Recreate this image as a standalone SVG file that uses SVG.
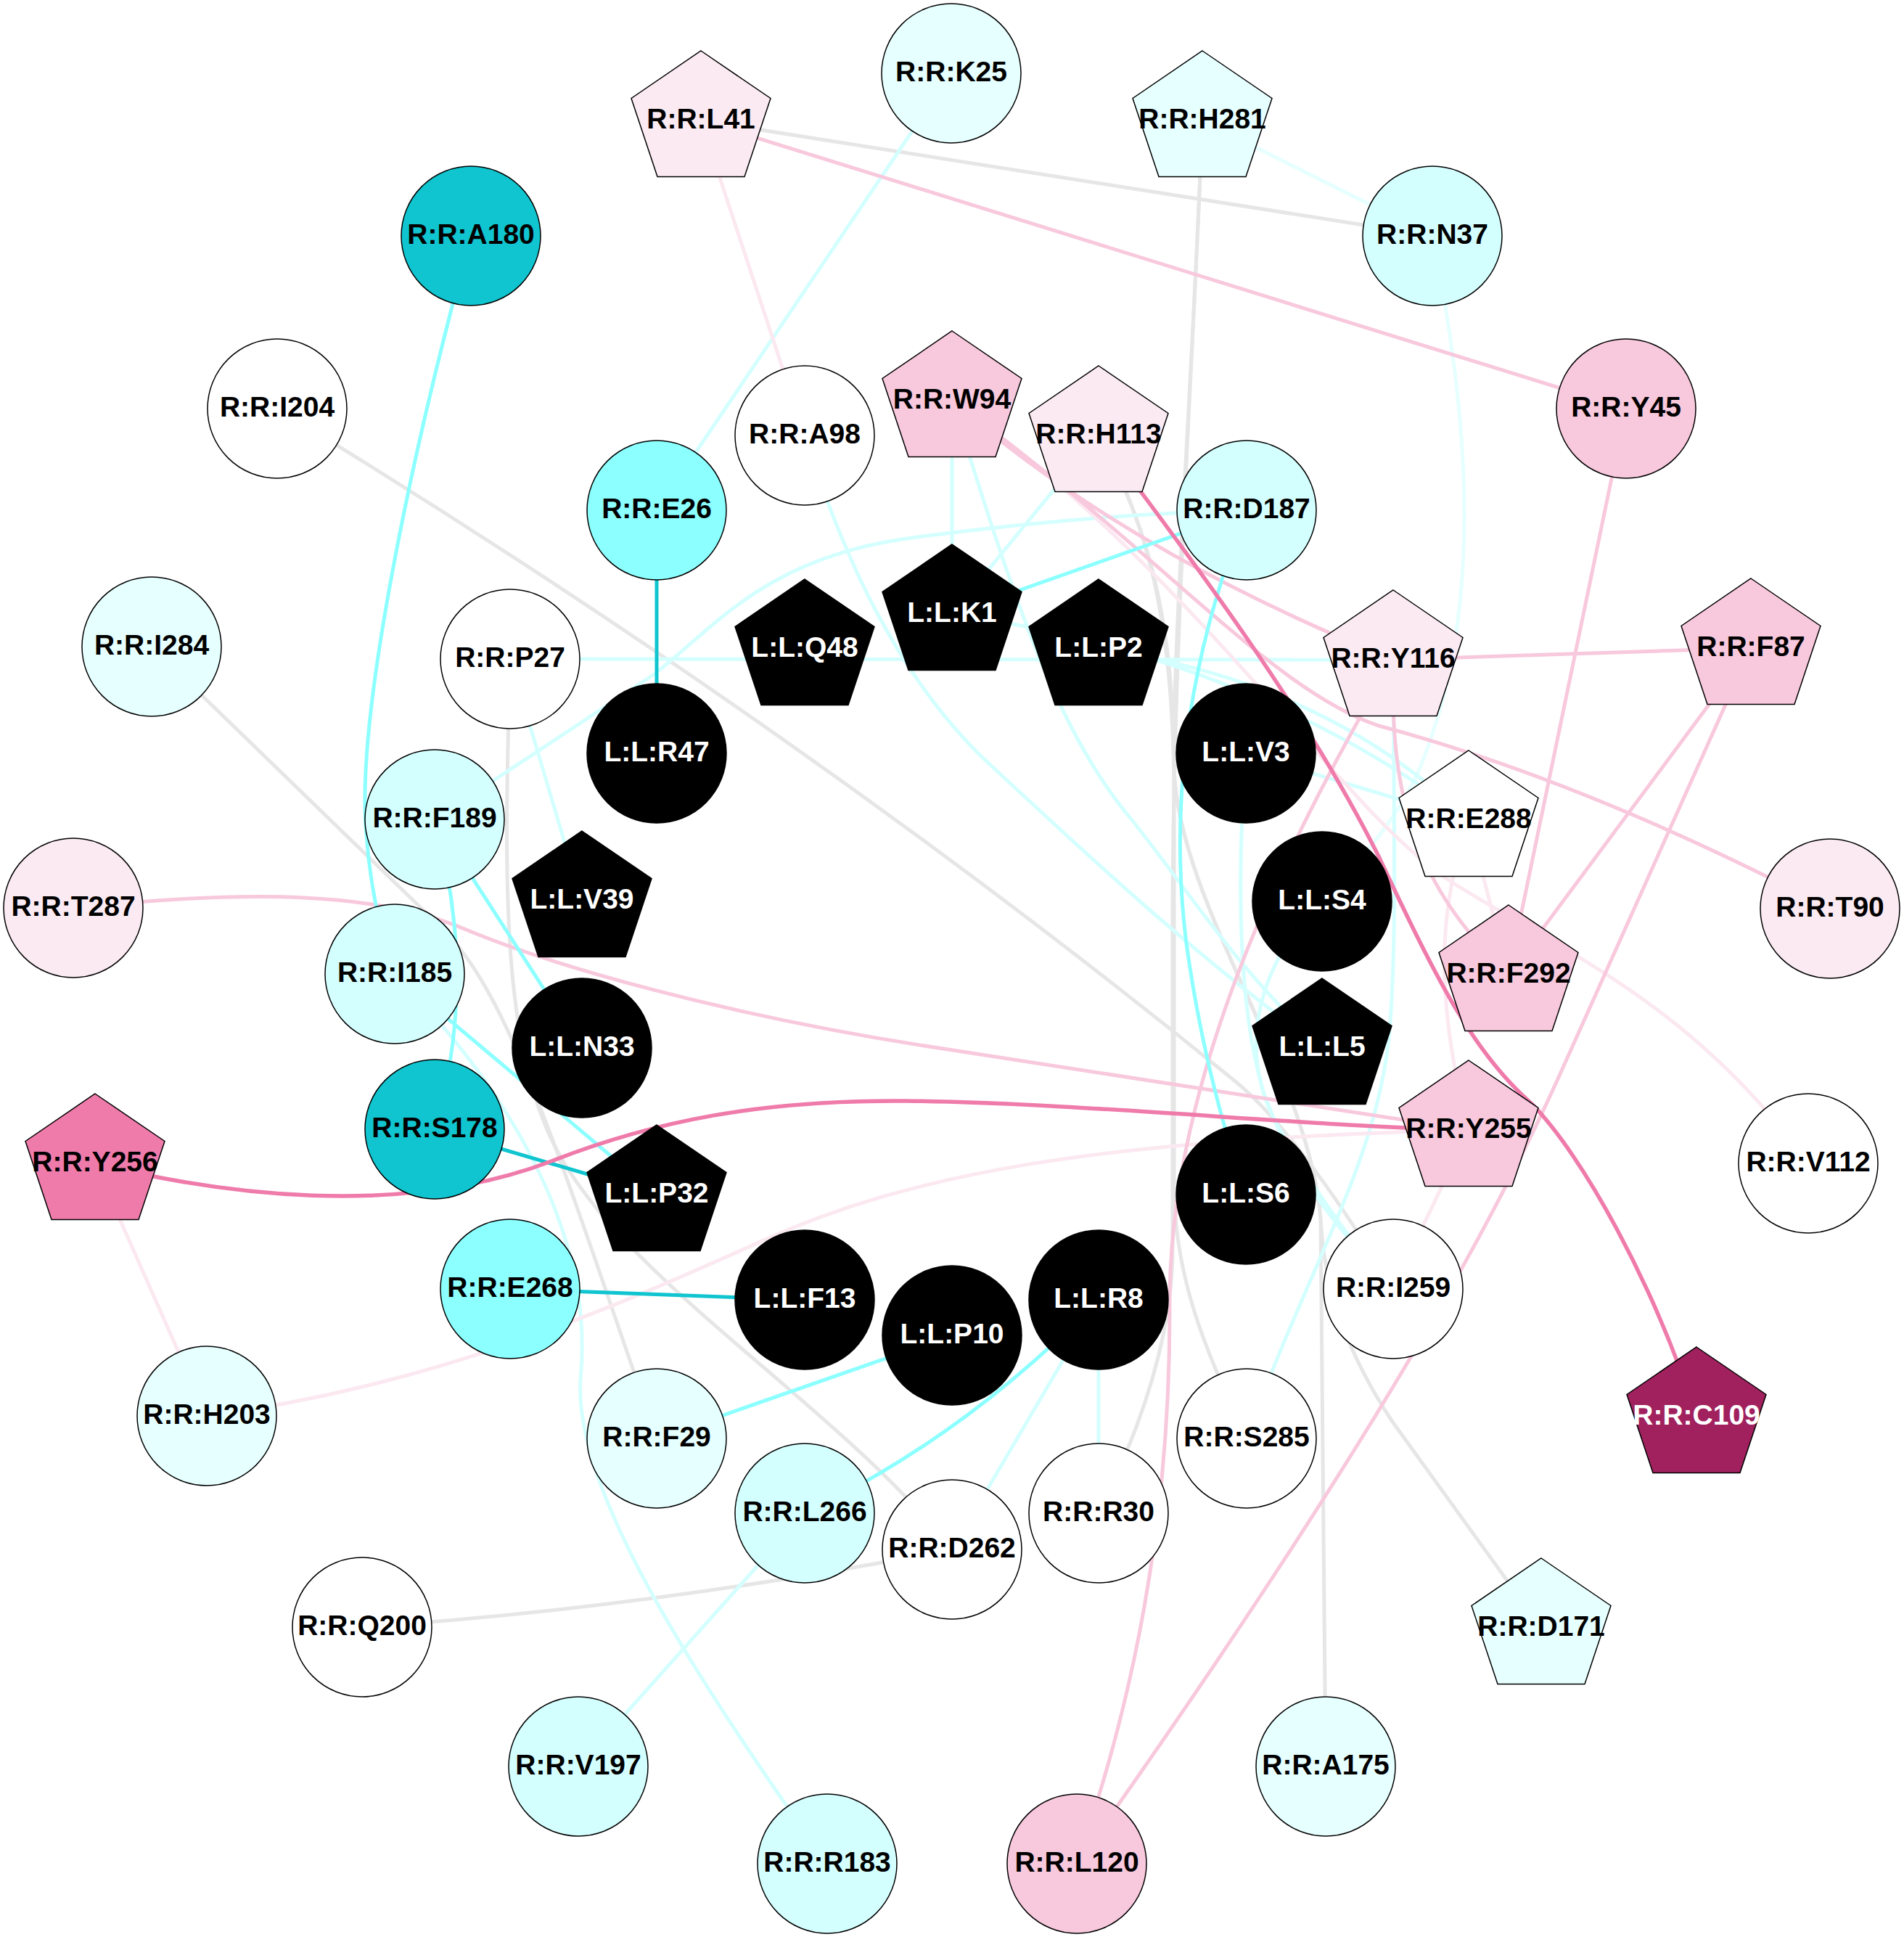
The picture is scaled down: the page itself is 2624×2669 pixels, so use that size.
<svg xmlns="http://www.w3.org/2000/svg" width="2624" height="2669" viewBox="0 0 2624 2669">
<defs>
<style>
.e{fill:none;stroke-width:5}
.eg{stroke:#E6E6E6}.ec1{stroke:#E6FFFF}.ec2{stroke:#D4FFFF}.ec3{stroke:#8CFFFF}.ec4{stroke:#10C5CF}
.ep1{stroke:#FBE8F0}.ep2{stroke:#F8C8DC}.ep3{stroke:#EF7BAB;stroke-width:5.5}
.n{stroke:#000;stroke-width:1.5}
.wh{fill:#FFFFFF}.c1{fill:#E6FFFF}.c2{fill:#D4FFFF}.c3{fill:#8CFFFF}.c4{fill:#10C5CF}
.p1{fill:#FBEAF2}.p2{fill:#F8C8DC}.p3{fill:#EF7BAB}.p4{fill:#A0215E}.bk{fill:#000000}
text{font-family:"Liberation Sans",Arial,sans-serif;font-weight:bold;font-size:39px;text-anchor:middle;fill:#000}
text.w{fill:#FFFFFF}
</style>
<polygon id="pent" points="0,-96 96,-30.5 60,77.5 -60,77.5 -96,-30.5"/>
</defs>
<rect width="2624" height="2669" fill="#FFFFFF"/>
<g id="connectors">
<path class="e eg" d="M966,166 L1974,325"/>
<path class="e eg" d="M382,563 Q1100,1000 1700,1488 Q1790,1561 1920,1776"/>
<path class="e eg" d="M209,891 L610,1280 C700,1370 760,1560 905,1982"/>
<path class="e eg" d="M703,908 C695,1200 690,1420 760,1570 C850,1760 1150,1930 1312,2135"/>
<path class="e eg" d="M499,2242 Q900,2215 1312,2135"/>
<path class="e eg" d="M1657,166 C1645,500 1615,900 1616,1300 L1616,1720 Q1616,1880 1514,2085"/>
<path class="e eg" d="M1657,166 C1645,500 1615,900 1618,1060 C1625,1250 1805,1480 1820,1680 L1827,2434"/>
<path class="e eg" d="M1514,600 C1580,720 1618,850 1618,1100 L1618,1640 C1620,1760 1660,1860 1718,1982"/>
<path class="e eg" d="M1514,600 C1580,720 1618,850 1618,1060 C1625,1250 1805,1480 1820,1680 C1825,1780 1860,1870 1919,1959 L2124,2243"/>
<path class="e ec1" d="M1657,166 L1974,325"/>
<path class="e ec1" d="M1974,325 C2030,600 2040,850 1960,1050 Q1930,1130 1822,1242"/>
<path class="e ec2" d="M1920,909 C1921,1150 1925,1300 1915,1420 C1900,1600 1800,1750 1718,1982"/>
<path class="e ec2" d="M1311,101 L905,703"/>
<path class="e ec2" d="M599,1129 L900,930 C980,870 1050,770 1250,742 C1450,715 1600,706 1718,703"/>
<path class="e ec2" d="M1312,552 L1312,846"/>
<path class="e ec2" d="M1514,600 L1312,846"/>
<path class="e ec2" d="M703,908 L1920,909"/>
<path class="e ec2" d="M703,908 L802,1241"/>
<path class="e ec2" d="M544,1342 C700,1500 820,1700 800,1900 C790,2050 950,2300 1140,2568"/>
<path class="e ec2" d="M1312,2135 L1514,1791"/>
<path class="e ec2" d="M1514,2085 L1514,1791"/>
<path class="e ec2" d="M1109,2085 L797,2434"/>
<path class="e ec2" d="M1717,1038 L2024,1130"/>
<path class="e ec2" d="M1109,600 C1160,760 1230,920 1350,1040 C1500,1180 1650,1320 1822,1444"/>
<path class="e ec2" d="M1312,552 C1390,800 1450,1000 1560,1130 C1640,1230 1700,1330 1822,1444"/>
<path class="e ec2" d="M1822,1242 C1740,1320 1700,1440 1760,1550 C1800,1620 1850,1700 1920,1776"/>
<path class="e ec2" d="M1717,1038 C1705,1200 1705,1380 1740,1500 C1780,1620 1850,1700 1920,1776"/>
<path class="e ec2" d="M1514,894 C1700,920 1880,990 2024,1130"/>
<path class="e ec2" d="M1312,846 C1550,880 1800,960 2024,1130"/>
<path class="e ep1" d="M966,166 L1109,600"/>
<path class="e ep1" d="M1312,552 C1650,790 1850,1120 2000,1215 C2150,1310 2330,1380 2492,1603"/>
<path class="e ep1" d="M285,1951 L131,1603"/>
<path class="e ep1" d="M285,1951 C600,1910 850,1800 1050,1710 C1250,1620 1500,1570 2024,1557"/>
<path class="e ep1" d="M2024,1130 C1990,1230 1970,1350 2024,1557"/>
<path class="e ep1" d="M2024,1130 L2079,1343"/>
<path class="e ep1" d="M2024,1557 L1920,1776"/>
<path class="e ep2" d="M966,166 L2241,563"/>
<path class="e ep2" d="M2241,563 L2079,1343"/>
<path class="e ep2" d="M2413,893 L1920,909"/>
<path class="e ep2" d="M2413,893 L2079,1343"/>
<path class="e ep2" d="M2413,893 L2150,1480 C2060,1680 1900,1980 1484,2568"/>
<path class="e ep2" d="M1920,909 C1760,1180 1610,1500 1612,1800 C1613,2100 1560,2350 1484,2568"/>
<path class="e ep2" d="M1920,909 C1915,1100 1950,1220 2079,1343"/>
<path class="e ep2" d="M1312,552 Q1550,760 1920,909"/>
<path class="e ep2" d="M1312,552 C1600,760 1750,950 1900,1000 C2050,1040 2250,1110 2522,1252"/>
<path class="e ep2" d="M101,1251 C350,1225 520,1230 640,1280 C760,1330 1000,1400 1300,1445 L2024,1557"/>
<path class="e ec3" d="M649,325 C560,650 490,1000 505,1150 Q512,1250 544,1342"/>
<path class="e ec3" d="M1312,846 L1718,703"/>
<path class="e ec3" d="M1718,703 C1640,900 1610,1100 1635,1300 Q1660,1480 1717,1646"/>
<path class="e ec3" d="M599,1129 L802,1444"/>
<path class="e ec3" d="M599,1129 Q660,1350 599,1556"/>
<path class="e ec3" d="M544,1342 L905,1646"/>
<path class="e ec3" d="M905,1982 L1312,1840"/>
<path class="e ec3" d="M1109,2085 Q1330,1980 1514,1791"/>
<path class="e ec4" d="M905,703 L905,1038"/>
<path class="e ec4" d="M599,1556 L905,1646"/>
<path class="e ec4" d="M703,1776 L1109,1791"/>
<path class="e ep3" d="M131,1603 C300,1645 550,1680 760,1600 C900,1545 1050,1515 1250,1517 C1500,1520 1800,1552 2024,1557"/>
<path class="e ep3" d="M1514,600 C1650,780 1800,980 1900,1180 C1980,1350 2030,1450 2110,1520 C2180,1590 2280,1770 2338,1952"/>
</g>
<g id="nodes">
<g id="RRK25" transform="translate(1311,101)"><circle class="n c1" r="96"/><text y="11">R:R:K25</text></g>
<g id="RRA180" transform="translate(649,325)"><circle class="n c4" r="96"/><text y="11">R:R:A180</text></g>
<g id="RRN37" transform="translate(1974,325)"><circle class="n c2" r="96"/><text y="11">R:R:N37</text></g>
<g id="RRI204" transform="translate(382,563)"><circle class="n wh" r="96"/><text y="11">R:R:I204</text></g>
<g id="RRA98" transform="translate(1109,600)"><circle class="n wh" r="96"/><text y="11">R:R:A98</text></g>
<g id="RRY45" transform="translate(2241,563)"><circle class="n p2" r="96"/><text y="11">R:R:Y45</text></g>
<g id="RRE26" transform="translate(905,703)"><circle class="n c3" r="96"/><text y="11">R:R:E26</text></g>
<g id="RRD187" transform="translate(1718,703)"><circle class="n c2" r="96"/><text y="11">R:R:D187</text></g>
<g id="RRI284" transform="translate(209,891)"><circle class="n c1" r="96"/><text y="11">R:R:I284</text></g>
<g id="RRP27" transform="translate(703,908)"><circle class="n wh" r="96"/><text y="11">R:R:P27</text></g>
<g id="LLR47" transform="translate(905,1038)"><circle class="n bk" r="96"/><text class="w" y="11">L:L:R47</text></g>
<g id="LLV3" transform="translate(1717,1038)"><circle class="n bk" r="96"/><text class="w" y="11">L:L:V3</text></g>
<g id="RRF189" transform="translate(599,1129)"><circle class="n c2" r="96"/><text y="11">R:R:F189</text></g>
<g id="LLS4" transform="translate(1822,1242)"><circle class="n bk" r="96"/><text class="w" y="11">L:L:S4</text></g>
<g id="RRT287" transform="translate(101,1251)"><circle class="n p1" r="96"/><text y="11">R:R:T287</text></g>
<g id="RRT90" transform="translate(2522,1252)"><circle class="n p1" r="96"/><text y="11">R:R:T90</text></g>
<g id="RRI185" transform="translate(544,1342)"><circle class="n c2" r="96"/><text y="11">R:R:I185</text></g>
<g id="LLN33" transform="translate(802,1444)"><circle class="n bk" r="96"/><text class="w" y="11">L:L:N33</text></g>
<g id="RRS178" transform="translate(599,1556)"><circle class="n c4" r="96"/><text y="11">R:R:S178</text></g>
<g id="RRV112" transform="translate(2492,1603)"><circle class="n wh" r="96"/><text y="11">R:R:V112</text></g>
<g id="LLS6" transform="translate(1717,1646)"><circle class="n bk" r="96"/><text class="w" y="11">L:L:S6</text></g>
<g id="RRE268" transform="translate(703,1776)"><circle class="n c3" r="96"/><text y="11">R:R:E268</text></g>
<g id="LLF13" transform="translate(1109,1791)"><circle class="n bk" r="96"/><text class="w" y="11">L:L:F13</text></g>
<g id="LLP10" transform="translate(1312,1840)"><circle class="n bk" r="96"/><text class="w" y="11">L:L:P10</text></g>
<g id="LLR8" transform="translate(1514,1791)"><circle class="n bk" r="96"/><text class="w" y="11">L:L:R8</text></g>
<g id="RRI259" transform="translate(1920,1776)"><circle class="n wh" r="96"/><text y="11">R:R:I259</text></g>
<g id="RRH203" transform="translate(285,1951)"><circle class="n c1" r="96"/><text y="11">R:R:H203</text></g>
<g id="RRF29" transform="translate(905,1982)"><circle class="n c1" r="96"/><text y="11">R:R:F29</text></g>
<g id="RRS285" transform="translate(1718,1982)"><circle class="n wh" r="96"/><text y="11">R:R:S285</text></g>
<g id="RRL266" transform="translate(1109,2085)"><circle class="n c2" r="96"/><text y="11">R:R:L266</text></g>
<g id="RRD262" transform="translate(1312,2135)"><circle class="n wh" r="96"/><text y="11">R:R:D262</text></g>
<g id="RRR30" transform="translate(1514,2085)"><circle class="n wh" r="96"/><text y="11">R:R:R30</text></g>
<g id="RRQ200" transform="translate(499,2242)"><circle class="n wh" r="96"/><text y="11">R:R:Q200</text></g>
<g id="RRV197" transform="translate(797,2434)"><circle class="n c2" r="96"/><text y="11">R:R:V197</text></g>
<g id="RRA175" transform="translate(1827,2434)"><circle class="n c1" r="96"/><text y="11">R:R:A175</text></g>
<g id="RRR183" transform="translate(1140,2568)"><circle class="n c2" r="96"/><text y="11">R:R:R183</text></g>
<g id="RRL120" transform="translate(1484,2568)"><circle class="n p2" r="96"/><text y="11">R:R:L120</text></g>
<g id="RRL41" transform="translate(966,166)"><use href="#pent" class="n p1"/><text y="11">R:R:L41</text></g>
<g id="RRH281" transform="translate(1657,166)"><use href="#pent" class="n c1"/><text y="11">R:R:H281</text></g>
<g id="RRW94" transform="translate(1312,552)"><use href="#pent" class="n p2"/><text y="11">R:R:W94</text></g>
<g id="RRH113" transform="translate(1514,600)"><use href="#pent" class="n p1"/><text y="11">R:R:H113</text></g>
<g id="LLQ48" transform="translate(1109,894)"><use href="#pent" class="n bk"/><text class="w" y="11">L:L:Q48</text></g>
<g id="LLK1" transform="translate(1312,846)"><use href="#pent" class="n bk"/><text class="w" y="11">L:L:K1</text></g>
<g id="LLP2" transform="translate(1514,894)"><use href="#pent" class="n bk"/><text class="w" y="11">L:L:P2</text></g>
<g id="RRY116" transform="translate(1920,909)"><use href="#pent" class="n p1"/><text y="11">R:R:Y116</text></g>
<g id="RRF87" transform="translate(2413,893)"><use href="#pent" class="n p2"/><text y="11">R:R:F87</text></g>
<g id="RRE288" transform="translate(2024,1130)"><use href="#pent" class="n wh"/><text y="11">R:R:E288</text></g>
<g id="LLV39" transform="translate(802,1241)"><use href="#pent" class="n bk"/><text class="w" y="11">L:L:V39</text></g>
<g id="RRF292" transform="translate(2079,1343)"><use href="#pent" class="n p2"/><text y="11">R:R:F292</text></g>
<g id="LLL5" transform="translate(1822,1444)"><use href="#pent" class="n bk"/><text class="w" y="11">L:L:L5</text></g>
<g id="RRY255" transform="translate(2024,1557)"><use href="#pent" class="n p2"/><text y="11">R:R:Y255</text></g>
<g id="RRY256" transform="translate(131,1603)"><use href="#pent" class="n p3"/><text y="11">R:R:Y256</text></g>
<g id="LLP32" transform="translate(905,1646)"><use href="#pent" class="n bk"/><text class="w" y="11">L:L:P32</text></g>
<g id="RRC109" transform="translate(2338,1952)"><use href="#pent" class="n p4"/><text class="w" y="11">R:R:C109</text></g>
<g id="RRD171" transform="translate(2124,2243)"><use href="#pent" class="n c1"/><text y="11">R:R:D171</text></g>
</g>
</svg>
